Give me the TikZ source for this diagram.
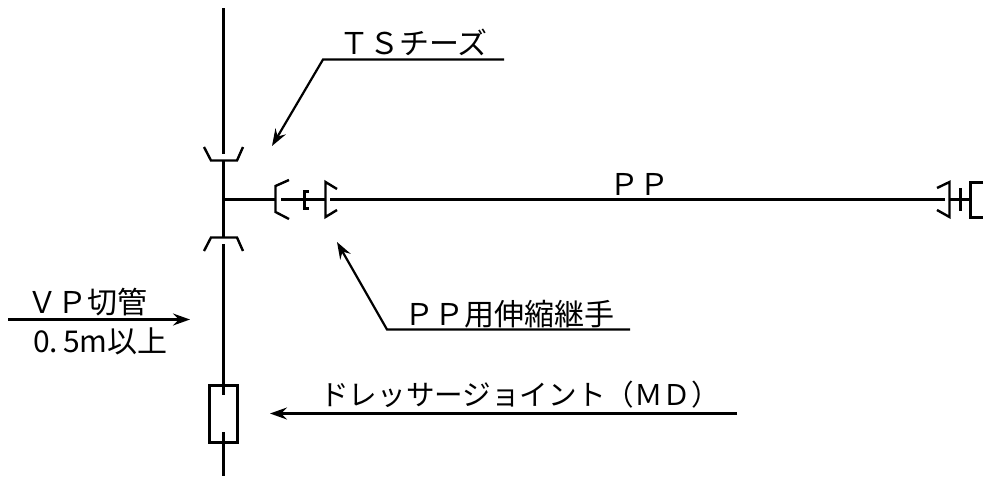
\documentclass[tikz,border=0pt]{standalone}
\usepackage{fontspec}
\setmainfont{Noto Sans CJK JP}[Scale=1]
\usetikzlibrary{arrows.meta}
\tikzset{
  pipe/.style={line width=2.4pt},
  leader/.style={line width=2.2pt,-{Stealth[length=17pt,width=12pt,inset=6pt]}},
  label/.style={inner sep=0pt,anchor=base west,font=\fontsize{#1}{#1}\selectfont},
}
\begin{document}
\begin{tikzpicture}[x=1pt,y=-1pt]
      \useasboundingbox (0,0) rectangle (984,477);
      \coordinate (top) at (223.5,8);
      \coordinate (bot) at (223.5,476);
      \coordinate (tee) at (223.5,199.5);
      \coordinate (endr) at (949.5,199.5);
      % vertical pipe
      \draw[pipe] (top) -- (223.5,154);
      \draw[pipe] (223.5,160) -- (223.5,237);
      \draw[pipe] (223.5,244) -- (223.5,395);
      \draw[pipe] (223.5,432) -- (bot);
      % sockets on the vertical pipe
      \draw[pipe] (204,147) -- (211,160.5) -- (237,160.5) -- (243,147);
      \draw[pipe] (204,251) -- (211,237.5) -- (237,237.5) -- (243,251);
      \node[pipe,draw,inner sep=0pt,minimum width=28pt,minimum height=57pt] (md) at (223.5,414) {};
      % horizontal pipe
      \draw[pipe] (tee) -- (275.5,199.5);
      \draw[pipe] (289,180) -- (275.5,186) -- (275.5,212) -- (289,219);
      \draw[pipe] (281,199.5) -- (325.5,199.5);
      \draw[pipe] (309,191.5) -- (304.5,191.5) -- (304.5,208.5) -- (309,208.5);
      \draw[pipe] (337,189) -- (325.5,182) -- (325.5,217) -- (337,210);
      \draw[pipe] (330,199.5) -- (945,199.5);
      % far end
      \draw[pipe] (937,188) -- (949.5,182) -- (949.5,217) -- (937,210);
      \draw[pipe] (endr) -- (970.5,199.5);
      \draw[pipe] (960.5,188) -- (960.5,211);
      \draw[pipe] (983,182.5) -- (970.5,182.5) -- (970.5,217.5) -- (983,217.5);
      % leaders
      \coordinate (tsend) at (504,59.5);
      \coordinate (tsknee) at (323,59.5);
      \coordinate (tstip) at (272,146);
      \draw[leader] (tsend) -- (tsknee) -- (tstip);
      \coordinate (ppend) at (630,329.5);
      \coordinate (ppknee) at (387,329.5);
      \coordinate (pptip) at (337,242);
      \draw[leader] (ppend) -- (ppknee) -- (pptip);
      \coordinate (vpend) at (8,319.5);
      \coordinate (vptip) at (190,319.5);
      \draw[leader] (vpend) -- (vptip);
      \coordinate (mdend) at (737,413.5);
      \coordinate (mdtip) at (270,413.5);
      \draw[leader] (mdend) -- (mdtip);
      % labels
      \node[label=30] (ts) at (339,54) {ＴＳチーズ};
      \node[label=30] (pp) at (609,195) {ＰＰ};
      \node[label=30] (ppj) at (404,325) {ＰＰ用伸縮継手};
      \node[label=30] (vp) at (27,313) {ＶＰ切管};
      \node[label=30] (len) at (33,352) {0.\kern5pt 5m以上};
      \node[label=28.6] (dj) at (320,405) {ドレッサージョイント（ＭＤ）};
    \end{tikzpicture}
\end{document}
